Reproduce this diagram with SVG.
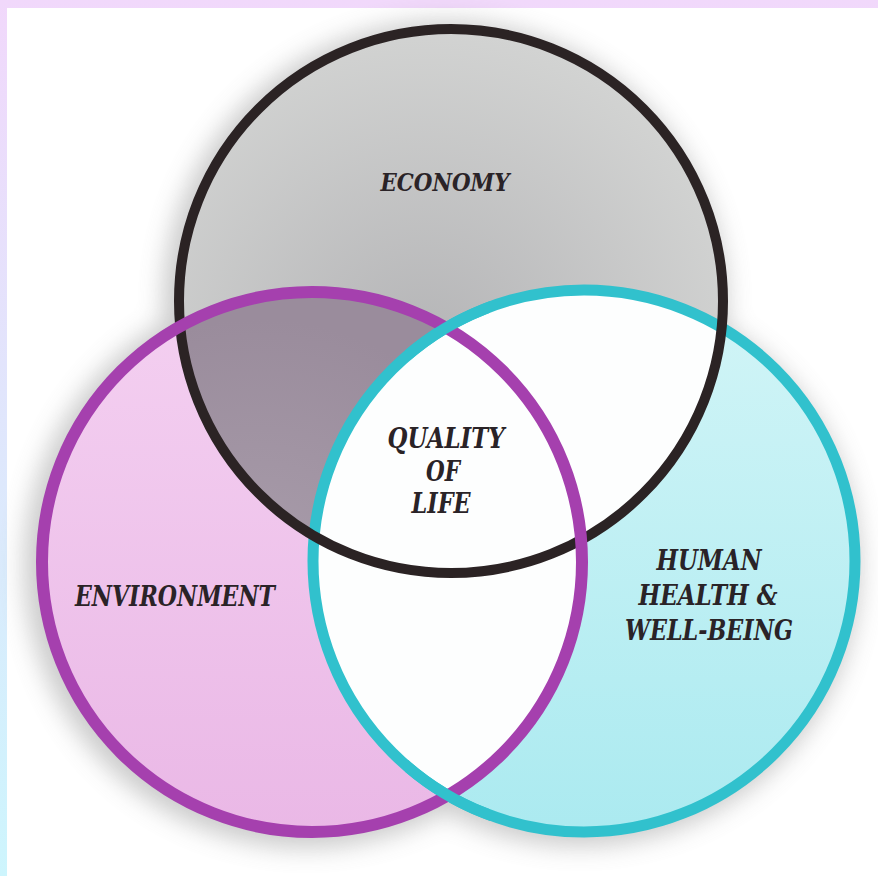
<svg xmlns="http://www.w3.org/2000/svg" width="878" height="876" viewBox="0 0 878 876">
<defs>
<linearGradient id="edge" x1="0" y1="0" x2="0" y2="1">
<stop offset="0" stop-color="#f1d8fb"/>
<stop offset="1" stop-color="#cdf5fd"/>
</linearGradient>
<radialGradient id="gray" cx="0.45" cy="0.6" r="0.6">
<stop offset="0" stop-color="#b4b4b6"/>
<stop offset="1" stop-color="#d2d3d2"/>
</radialGradient>
<radialGradient id="mix" cx="0.4" cy="0.55" r="0.5">
<stop offset="0" stop-color="#a99dab"/>
<stop offset="1" stop-color="#9a8c9c"/>
</radialGradient>
<linearGradient id="pink" x1="0" y1="0" x2="0" y2="1">
<stop offset="0" stop-color="#f4d0f1"/>
<stop offset="1" stop-color="#eab8e6"/>
</linearGradient>
<linearGradient id="cyan" x1="0" y1="0" x2="0" y2="1">
<stop offset="0" stop-color="#d2f5f7"/>
<stop offset="1" stop-color="#abeaf0"/>
</linearGradient>
<clipPath id="inEcon"><circle cx="451" cy="301" r="272"/></clipPath>
<clipPath id="inHealth"><circle cx="584" cy="561" r="271"/></clipPath>
<clipPath id="crossPatch">
<rect x="405" y="290" width="85" height="70"/>
<rect x="405" y="760" width="85" height="75"/>
</clipPath>
<filter id="blur" x="-20%" y="-20%" width="140%" height="140%">
<feGaussianBlur stdDeviation="12"/>
</filter>
<style>
.lbl{font-family:"DejaVu Serif","Liberation Serif",serif;font-weight:bold;font-style:italic;fill:#2a2327;text-anchor:middle}
.ring{fill:none}
</style>
</defs>
<rect x="0" y="0" width="878" height="876" fill="url(#edge)"/>
<rect x="7" y="8" width="871" height="868" fill="#ffffff"/>
<g id="shadow" filter="url(#blur)" opacity="0.45" fill="#8c8c8c">
<circle cx="445" cy="303" r="282"/>
<circle cx="306" cy="566" r="282"/>
<circle cx="580" cy="566" r="280"/>
</g>
<g id="fills">
<circle cx="451" cy="301" r="272" fill="url(#gray)"/>
<circle cx="312" cy="562" r="270" fill="url(#pink)"/>
<circle cx="312" cy="562" r="270" fill="url(#mix)" clip-path="url(#inEcon)"/>
<circle cx="584" cy="561" r="271" fill="url(#cyan)"/>
<g clip-path="url(#inHealth)" fill="#fdfefe">
<circle cx="451" cy="301" r="272"/>
<circle cx="312" cy="562" r="270"/>
</g>
</g>
<g id="health">
<circle class="ring" cx="584" cy="561" r="271" stroke="#31c1cd" stroke-width="11"/>
</g>
<g id="economy">
<circle class="ring" cx="451" cy="301" r="272" stroke="#2b2324" stroke-width="10"/>
</g>
<g id="environment">
<circle class="ring" cx="312" cy="562" r="270" stroke="#a540ae" stroke-width="12"/>
</g>
<g id="health-crossings" clip-path="url(#crossPatch)">
<circle class="ring" cx="584" cy="561" r="271" stroke="#31c1cd" stroke-width="11"/>
</g>
<g id="labels">
<text class="lbl" x="445" y="191" font-size="24" textLength="129" lengthAdjust="spacingAndGlyphs">ECONOMY</text>
<text class="lbl" x="175" y="606" font-size="27" textLength="200" lengthAdjust="spacingAndGlyphs">ENVIRONMENT</text>
<text class="lbl" x="709" y="570" font-size="27" textLength="105" lengthAdjust="spacingAndGlyphs">HUMAN</text>
<text class="lbl" x="708" y="605" font-size="27" textLength="139" lengthAdjust="spacingAndGlyphs">HEALTH &amp;</text>
<text class="lbl" x="709" y="640" font-size="27" textLength="168" lengthAdjust="spacingAndGlyphs">WELL-BEING</text>
</g>
<g id="quality-of-life">
<text class="lbl" x="446" y="448" font-size="28" textLength="117" lengthAdjust="spacingAndGlyphs">QUALITY</text>
<text class="lbl" x="443" y="481" font-size="28" textLength="34" lengthAdjust="spacingAndGlyphs">OF</text>
<text class="lbl" x="441" y="513" font-size="28" textLength="59" lengthAdjust="spacingAndGlyphs">LIFE</text>
</g>
</svg>
